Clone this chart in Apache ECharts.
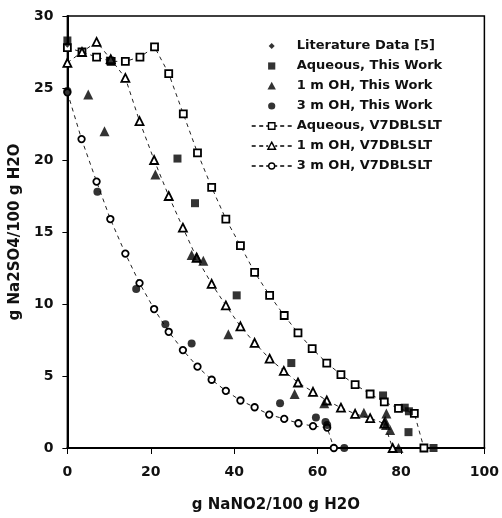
<!DOCTYPE html>
<html>
<head>
<meta charset="utf-8">
<script src="https://cdn.jsdelivr.net/npm/echarts@6/dist/echarts.min.js"></script>
<style>
html,body{margin:0;padding:0;background:#fff;}
#chart{width:502px;height:518px;}
</style>
</head>
<body>
<div id="chart"></div>
<script>
// ---- data ----
const litX = [0];
const litY = [28.0];

const aqTWX = [0, 10.2, 26.4, 30.6, 40.6, 53.7, 75.7, 80.9, 81.9, 81.8, 87.8];
const aqTWY = [28.3, 26.9, 20.1, 17.0, 10.6, 5.9, 3.65, 2.8, 2.55, 1.1, 0];

const oh1TWX = [5.0, 8.9, 21.1, 29.8, 31.0, 32.6, 38.6, 54.5, 61.6, 71.1, 76.5, 76.2, 76.4, 77.4, 79.4];
const oh1TWY = [24.55, 22.0, 19.0, 13.4, 13.3, 13.0, 7.9, 3.75, 3.1, 2.45, 2.4, 1.9, 1.6, 1.25, 0];

const oh3TWX = [0, 7.2, 16.5, 23.5, 29.8, 51.0, 59.6, 61.9, 62.3, 66.4];
const oh3TWY = [24.8, 17.8, 11.05, 8.6, 7.25, 3.1, 2.12, 1.8, 1.6, 0];

const aqV7X = [0, 3.5, 7.0, 10.5, 13.9, 17.4, 20.9, 24.3, 27.8, 31.2, 34.6, 38.0, 41.5, 44.9, 48.5, 52.0, 55.3, 58.7, 62.2, 65.6, 69.0, 72.6, 76.0, 79.4, 83.2, 85.5];
const aqV7Y = [27.8, 27.5, 27.15, 26.85, 26.85, 27.15, 27.85, 26.0, 23.2, 20.5, 18.1, 15.9, 14.05, 12.2, 10.6, 9.2, 8.0, 6.9, 5.9, 5.1, 4.4, 3.75, 3.2, 2.75, 2.4, 0];

const oh1V7X = [0, 3.5, 7.0, 10.4, 13.9, 17.3, 20.8, 24.3, 27.7, 31.0, 34.6, 38.0, 41.5, 44.9, 48.5, 51.9, 55.3, 58.9, 62.2, 65.6, 69.0, 72.6, 76.0, 78.0];
const oh1V7Y = [26.75, 27.5, 28.2, 27.0, 25.7, 22.7, 20.0, 17.5, 15.3, 13.2, 11.4, 9.9, 8.45, 7.3, 6.2, 5.35, 4.55, 3.9, 3.3, 2.8, 2.37, 2.07, 1.7, 0];

const oh3V7X = [0, 3.4, 7.0, 10.3, 13.9, 17.3, 20.8, 24.3, 27.7, 31.2, 34.6, 38.0, 41.5, 44.9, 48.4, 52.0, 55.4, 58.9, 62.3, 63.9];
const oh3V7Y = [24.7, 21.45, 18.5, 15.9, 13.5, 11.45, 9.65, 8.07, 6.8, 5.65, 4.74, 3.97, 3.3, 2.83, 2.32, 2.02, 1.72, 1.52, 1.42, 0];

const names = ['Literature Data [5]', 'Aqueous, This Work', '1 m OH, This Work', '3 m OH, This Work',
  'Aqueous, V7DBLSLT', '1 m OH, V7DBLSLT', '3 m OH, V7DBLSLT'];
const xTicks = [0, 20, 40, 60, 80, 100];
const yTicks = [0, 5, 10, 15, 20, 25, 30];

const zip = (a, b) => a.map((v, i) => [v, b[i]]);
const FONT = '"DejaVu Sans", sans-serif';

// legend icons: shape plus invisible moveTo padding so the drawn mark stays small in the box
const ICON_DIAMOND = 'path://M-5,-5M5,5M0,-3L3,0L0,3L-3,0Z';
const ICON_RECT = 'path://M-5,-5M5,5M-3.6,-3.6L3.6,-3.6L3.6,3.6L-3.6,3.6Z';
const ICON_TRI = 'path://M-5,-5M5,5M0,-4.2L4.2,3.6L-4.2,3.6Z';
const ICON_CIRC = 'path://M-5,-5M5,5M-3.6,0A3.6,3.6,0,1,1,3.6,0A3.6,3.6,0,1,1,-3.6,0Z';
// dashed-line legend samples (40 x 10 box) with open marker in the middle
const DASHES = 'M0,0M40,10M0,5L4,5M7.5,5L11.5,5M14.5,5L16.5,5M23.5,5L25.5,5M28.5,5L32.5,5M36,5L40,5';
const ICON_RECT_O = 'path://' + DASHES + 'M16.8,1.8L23.2,1.8L23.2,8.2L16.8,8.2Z';
const ICON_TRI_O = 'path://' + DASHES + 'M20,1.2L23.8,8.3L16.2,8.3Z';
const ICON_CIRC_O = 'path://' + DASHES + 'M17,5A3,3,0,1,1,23,5A3,3,0,1,1,17,5Z';

function lineSeries(name, xs, ys, symbol, size) {
  return {
    name, type: 'line', data: zip(xs, ys), symbol, symbolSize: size,
    lineStyle: { color: '#222', width: 1, type: [4, 4] },
    itemStyle: { color: '#fff', borderColor: '#000', borderWidth: 1.8 },
    z: 2, animation: false
  };
}
function scatterSeries(name, xs, ys, symbol, size) {
  return {
    name, type: 'scatter', data: zip(xs, ys), symbol, symbolSize: size,
    itemStyle: { color: '#000' }, z: 3, animation: false
  };
}

const openLegendStyle = { color: '#fff', borderColor: '#000', borderWidth: 1.4 };

const chart = echarts.init(document.getElementById('chart'), null, { renderer: 'canvas' });
chart.setOption({
  backgroundColor: '#fff',
  animation: false,
  grid: { left: 65, right: 17, top: 16, bottom: 67, show: true, borderColor: '#000', borderWidth: 1.5 },
  xAxis: {
    type: 'value', min: xTicks[0], max: xTicks[xTicks.length - 1], interval: 20,
    name: 'g NaNO2/100 g H2O', nameLocation: 'middle', nameGap: 50,
    nameTextStyle: { fontFamily: FONT, fontWeight: 'bold', fontSize: 15, color: '#111' },
    axisLine: { onZero: false, lineStyle: { color: '#000', width: 2 } },
    axisTick: { show: true, length: 6, lineStyle: { color: '#000', width: 1 } },
    axisLabel: { margin: 17, fontFamily: FONT, fontWeight: 'bold', fontSize: 14, color: '#111' },
    splitLine: { show: false }
  },
  yAxis: {
    type: 'value', min: yTicks[0], max: yTicks[yTicks.length - 1], interval: 5,
    name: 'g Na2SO4/100 g H2O', nameLocation: 'middle', nameGap: 37, nameRotate: 90,
    nameTextStyle: { fontFamily: FONT, fontWeight: 'bold', fontSize: 15, color: '#111' },
    axisLine: { show: true, onZero: false, lineStyle: { color: '#000', width: 2 } },
    axisTick: { show: true, length: 5, lineStyle: { color: '#000', width: 1 } },
    axisLabel: { margin: 14, fontFamily: FONT, fontWeight: 'bold', fontSize: 14, color: '#111' },
    splitLine: { show: false }
  },
  legend: {
    orient: 'vertical', left: 246, top: 34, itemWidth: 40, itemHeight: 10, itemGap: 6,
    symbolKeepAspect: true,
    data: [
      { name: names[0], icon: ICON_DIAMOND },
      { name: names[1], icon: ICON_RECT },
      { name: names[2], icon: ICON_TRI },
      { name: names[3], icon: ICON_CIRC },
      { name: names[4], icon: ICON_RECT_O, itemStyle: openLegendStyle },
      { name: names[5], icon: ICON_TRI_O, itemStyle: openLegendStyle },
      { name: names[6], icon: ICON_CIRC_O, itemStyle: openLegendStyle }
    ],
    textStyle: { fontFamily: FONT, fontWeight: 'bold', fontSize: 13, color: '#111', lineHeight: 14 }
  },
  series: [
    lineSeries(names[4], aqV7X, aqV7Y, 'rect', 7),
    lineSeries(names[5], oh1V7X, oh1V7Y, 'triangle', 8),
    lineSeries(names[6], oh3V7X, oh3V7Y, 'circle', 6.5),
    scatterSeries(names[0], litX, litY, 'diamond', 6),
    scatterSeries(names[1], aqTWX, aqTWY, 'rect', 8),
    scatterSeries(names[2], oh1TWX, oh1TWY, 'triangle', 10),
    scatterSeries(names[3], oh3TWX, oh3TWY, 'circle', 8)
  ]
});
</script>
</body>
</html>
